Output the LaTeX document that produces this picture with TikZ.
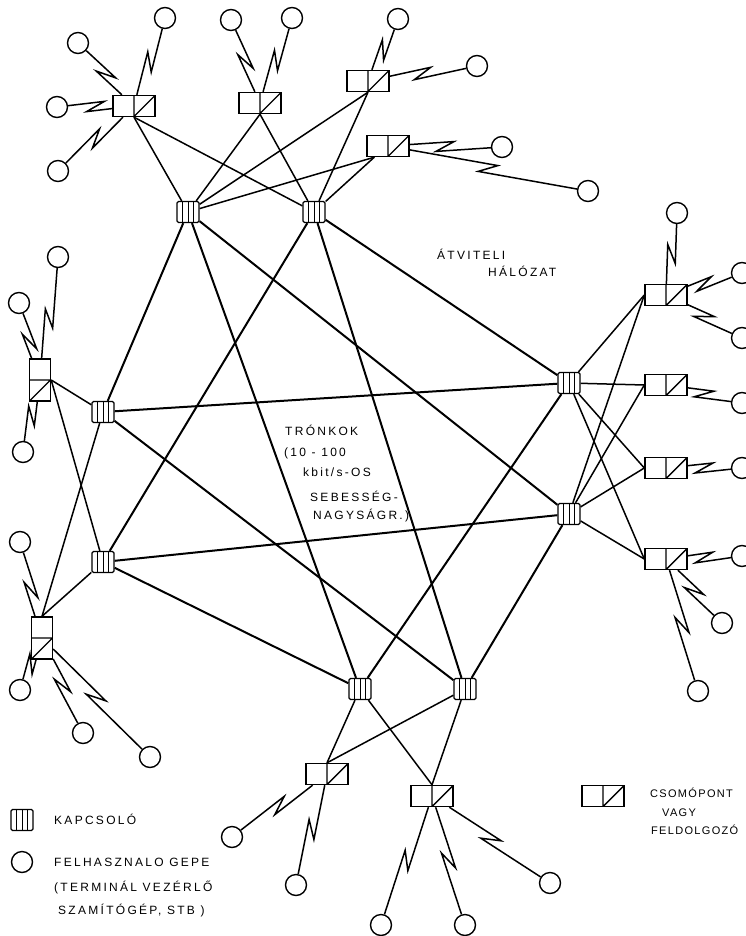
\documentclass[tikz,border=0pt]{standalone}
\usepackage{fontspec}
\setmainfont{Liberation Sans}[LetterSpace=19]
\usetikzlibrary{calc}
\begin{document}
\begin{tikzpicture}[x=1pt,y=-1pt,
  sw/.style={draw, line width=1.3pt, minimum width=22pt, minimum height=21pt, inner sep=0pt, rounded corners=1.5pt,
    path picture={\foreach \q in {0.25,0.5,0.75}{\draw[line width=1pt] ($(path picture bounding box.south west)!\q!(path picture bounding box.south east)$) -- ($(path picture bounding box.north west)!\q!(path picture bounding box.north east)$);}}},
  conc/.style={draw, line width=1.4pt, rectangle, minimum width=42pt, minimum height=21pt, inner sep=0pt,
    path picture={\draw[line width=1.4pt] (path picture bounding box.north) -- (path picture bounding box.south) -- (path picture bounding box.north east);}},
  concv/.style={draw, line width=1.4pt, rectangle, minimum width=21pt, minimum height=42pt, inner sep=0pt,
    path picture={\draw[line width=1.4pt] (path picture bounding box.west) -- (path picture bounding box.east) -- (path picture bounding box.south west);}},
  term/.style={circle, draw, line width=1.4pt, minimum size=21pt, inner sep=0pt},
  trunk/.style={line width=2pt},
  link/.style={line width=1.5pt},
  radio/.style={line width=1.5pt, line join=miter},
  zz/.style={to path={let \p1=(\tikztostart), \p2=(\tikztotarget), \n1={atan2(\y2-\y1,\x2-\x1)} in
     -- ($(\p1)!0.5!(\p2)+(\n1:9pt)+(\n1+90*#1:5pt)$)
     -- ($(\p1)!0.5!(\p2)+(\n1+180:9pt)+(\n1-90*#1:5pt)$)
     -- (\tikztotarget)}},
  zz/.default=1,
  lbl/.style={font=\fontsize{12}{14}\selectfont, inner sep=0pt, anchor=base west},
  lbls/.style={font=\fontsize{11}{13}\selectfont\addfontfeatures{LetterSpace=12}, inner sep=0pt, anchor=base west}
]
\fill[white] (0,0) rectangle (746,936);
\useasboundingbox (0,0) rectangle (746,936);

% switches
\node[sw] (s1) at (188,212) {};
\node[sw] (s2) at (314,212) {};
\node[sw] (s3) at (103,412) {};
\node[sw] (s4) at (103,562) {};
\node[sw] (s5) at (569,383) {};
\node[sw] (s6) at (569,514) {};
\node[sw] (s7) at (360,689) {};
\node[sw] (s8) at (465,689) {};

% concentrators
\node[conc] (c1) at (134,106) {};
\node[conc] (c2) at (260,103) {};
\node[conc] (c3) at (368,81) {};
\node[conc] (c4) at (388,146) {};
\node[concv] (c5) at (40,380) {};
\node[concv] (c6) at (42,638) {};
\node[conc] (c7) at (666,295) {};
\node[conc] (c8) at (666,385) {};
\node[conc] (c9) at (666,468) {};
\node[conc] (c10) at (666,559) {};
\node[conc] (c11) at (327,774) {};
\node[conc] (c12) at (432,796) {};

% terminals
\node[term] (t1) at (78,43) {};
\node[term] (t2) at (165,18) {};
\node[term] (t3) at (57,107) {};
\node[term] (t4) at (58,171) {};
\node[term] (t5) at (231,20) {};
\node[term] (t6) at (292,18) {};
\node[term] (t7) at (398,19) {};
\node[term] (t8) at (477,66) {};
\node[term] (t9) at (502,147) {};
\node[term] (t10) at (588,191) {};
\node[term] (t11) at (677,213) {};
\node[term] (t12) at (742,273) {};
\node[term] (t13) at (742,338) {};
\node[term] (t14) at (742,403) {};
\node[term] (t15) at (742,468) {};
\node[term] (t16) at (742,556) {};
\node[term] (t17) at (722,623) {};
\node[term] (t18) at (698,691) {};
\node[term] (t19) at (58,257) {};
\node[term] (t20) at (19,303) {};
\node[term] (t21) at (23,452) {};
\node[term] (t22) at (20,542) {};
\node[term] (t23) at (20,690) {};
\node[term] (t24) at (83,733) {};
\node[term] (t25) at (150,757) {};
\node[term] (t26) at (232,837) {};
\node[term] (t27) at (296,885) {};
\node[term] (t28) at (381,925) {};
\node[term] (t29) at (465,925) {};
\node[term] (t30) at (550,883) {};

% trunks
\draw[trunk] (s1) -- (s3);
\draw[trunk] (s1) -- (s7);
\draw[trunk] (s1) -- (s6);
\draw[trunk] (s2) -- (s4);
\draw[trunk] (s2) -- (s5);
\draw[trunk] (s2) -- (s8);
\draw[trunk] (s3) -- (s5);
\draw[trunk] (s3) -- (s8);
\draw[trunk] (s4) -- (s6);
\draw[trunk] (s4) -- (s7);
\draw[trunk] (s5) -- (s7);
\draw[trunk] (s6) -- (s8);

% concentrator - switch
\draw[link] (c1.south) -- (s1);
\draw[link] (c1.south) -- (s2);
\draw[link] (c2.south) -- (s1);
\draw[link] (c2.south) -- (s2);
\draw[link] (c3.south) -- (s1);
\draw[link] (c3.south) -- (s2);
\draw[link] ([xshift=8pt]c4.south west) -- (s1);
\draw[link] ([xshift=8pt]c4.south west) -- (s2);
\draw[link] (c5.east) -- (s3);
\draw[link] (c5.east) -- (s4);
\draw[link] (c6.north) -- (s3);
\draw[link] (c6.north) -- (s4);
\draw[link] (c7.west) -- (s5);
\draw[link] (c7.west) -- (s6);
\draw[link] (c8.west) -- (s5);
\draw[link] (c8.west) -- (s6);
\draw[link] (c9.west) -- (s5);
\draw[link] (c9.west) -- (s6);
\draw[link] (c10.west) -- (s5);
\draw[link] (c10.west) -- (s6);
\draw[link] (c11.north) -- (s7);
\draw[link] (c11.north) -- (s8);
\draw[link] (c12.north) -- (s7);
\draw[link] (c12.north) -- (s8);

% concentrator - terminal (radio links)
\draw[radio] (c1) to[zz] (t1);
\draw[radio] (c1) to[zz] (t2);
\draw[radio] (c1) to[zz] (t3);
\draw[radio] (c1) to[zz] (t4);
\draw[radio] (c2) to[zz] (t5);
\draw[radio] (c2) to[zz] (t6);
\draw[radio] (c3) to[zz] (t7);
\draw[radio] (c3) to[zz] (t8);
\draw[radio] (c4) to[zz] (t9);
\draw[radio] (c4) to[zz] (t10);
\draw[radio] (c7) to[zz] (t11);
\draw[radio] (c7) to[zz] (t12);
\draw[radio] (c7) to[zz] (t13);
\draw[radio] (c8) to[zz] (t14);
\draw[radio] (c9) to[zz] (t15);
\draw[radio] (c10) to[zz] (t16);
\draw[radio] (c10) to[zz] (t17);
\draw[radio] (c10) to[zz] (t18);
\draw[radio] (c5) to[zz] (t19);
\draw[radio] (c5) to[zz] (t20);
\draw[radio] (c5) to[zz] (t21);
\draw[radio] (c6) to[zz] (t22);
\draw[radio] (c6) to[zz] (t23);
\draw[radio] (c6) to[zz] (t24);
\draw[radio] (c6) to[zz] (t25);
\draw[radio] (c11) to[zz] (t26);
\draw[radio] (c11) to[zz] (t27);
\draw[radio] (c12) to[zz] (t28);
\draw[radio] (c12) to[zz] (t29);
\draw[radio] (c12) to[zz] (t30);

% texts
\node[lbl] (atv1) at (437,259) {ÁTVITELI};
\node[lbl] (atv2) at (488,276) {HÁLÓZAT};
\node[lbl] (tr1) at (285,435) {TRÓNKOK};
\node[lbl] (tr2) at (284,456) {(10 - 100};
\node[lbl] (tr3) at (303,476) {kbit/s-OS};
\node[lbl] (tr4) at (310,501) {SEBESSÉG-};
\node[lbl] (tr5) at (313,519) {NAGYSÁGR.)};

% legend
\node[sw] (ls) at (22,820) {};
\node[lbl] (lst) at (54,824) {KAPCSOLÓ};
\node[term] (lt) at (22,862) {};
\node[lbl] (lt1) at (54,866) {FELHASZNALO GEPE};
\node[lbl] (lt2) at (54,891) {(TERMINÁL VEZÉRLŐ};
\node[lbl] (lt3) at (58,914) {SZAMÍTÓGÉP, STB )};
\node[conc] (lc) at (603,796) {};
\node[lbls] (lc1) at (650,797) {CSOMÓPONT};
\node[lbls] (lc2) at (662,816) {VAGY};
\node[lbls] (lc3) at (651,834) {FELDOLGOZÓ};
\end{tikzpicture}
\end{document}
